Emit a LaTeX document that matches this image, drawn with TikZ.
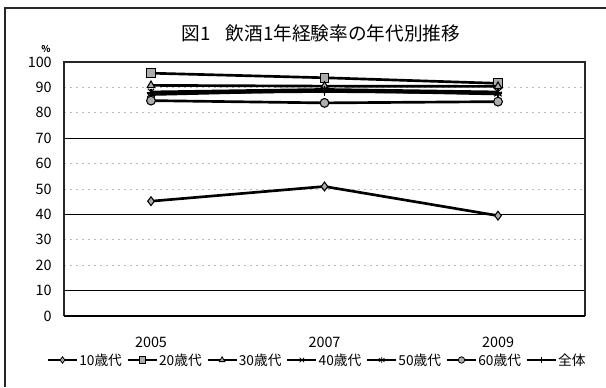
\documentclass[tikz,border=0pt]{standalone}
\usepackage{fontspec}
\setmainfont{Noto Sans CJK JP}
\usetikzlibrary{plotmarks}
\begin{document}
\begin{tikzpicture}[x=0.75pt,y=-0.75pt,
  series/.style={line width=2pt, black},
  mk/.style={mark options={solid, draw=black, fill=gray!65, line width=0.8pt}, mark size=3.3pt},
  lgmk/.style={mark options={solid, draw=black, fill=gray!65, line width=0.6pt}, mark size=2.4pt},
  lgline/.style={line width=1.4pt, black},
  gridmajor/.style={line width=0.8pt, black},
  gridminor/.style={gray!55, line width=0.5pt, dash pattern=on 1.5pt off 3pt},
  frame/.style={line width=0.8pt, black!85},
  ticklab/.style={anchor=east, inner sep=0pt, font=\fontsize{10.8}{12}\selectfont},
  yearlab/.style={inner sep=0pt, font=\fontsize{10.8}{12}\selectfont},
  lgtext/.style={anchor=west, inner sep=0pt, font=\fontsize{10.3}{12}\selectfont},
  titlestyle/.style={inner sep=0pt, font=\fontsize{14}{16}\selectfont}
]
\useasboundingbox (0,0) rectangle (606,387);
\fill[white] (0,0) rectangle (606,387);
% outer frame
\coordinate (fbl) at (5,387);
\coordinate (ftl) at (5,8);
\coordinate (ftr) at (606,8);
\draw[frame] (fbl) -- (ftl) -- (ftr);
% title
\node[titlestyle] (title) at (321,33) {図1\hspace{0.8em}飲酒1年経験率の年代別推移};
% plot area corners
\coordinate (pbl) at (64,316);
\coordinate (ptl) at (64,62);
\coordinate (ptr) at (585,62);
\coordinate (pbr) at (585,316);
% grid lines
\foreach \v in {90,80,60,50,30,20}
  \draw[gridminor] (64,{316-2.54*\v}) -- (585,{316-2.54*\v});
\foreach \v in {70,40,10}
  \draw[gridmajor] (64,{316-2.54*\v}) -- (585,{316-2.54*\v});
\draw[frame] (pbl) -- (ptl) -- (ptr) -- (pbr);
\draw[line width=1.6pt, black] (pbl) -- (pbr);
% y tick labels
\foreach \v in {0,10,...,100}
  \node[ticklab] (y\v) at (52,{316-2.54*\v}) {\v};
\node[inner sep=0pt, font=\fontsize{7}{8}\selectfont\bfseries] (pct) at (46,49) {\%};
% x labels
\node[yearlab] (x2005) at (151,342) {2005};
\node[yearlab] (x2007) at (324.5,342) {2007};
\node[yearlab] (x2009) at (498,342) {2009};
% data coordinates
\coordinate (a1) at (151,{316-2.54*45.2});
\coordinate (a2) at (324.5,{316-2.54*51});
\coordinate (a3) at (498,{316-2.54*39.5});
\coordinate (b1) at (151,{316-2.54*95.6});
\coordinate (b2) at (324.5,{316-2.54*93.8});
\coordinate (b3) at (498,{316-2.54*91.6});
\coordinate (c1) at (151,{316-2.54*90.8});
\coordinate (c2) at (324.5,{316-2.54*90.5});
\coordinate (c3) at (498,{316-2.54*90.4});
\coordinate (d1) at (151,{316-2.54*88.2});
\coordinate (d2) at (324.5,{316-2.54*89.2});
\coordinate (d3) at (498,{316-2.54*88.2});
\coordinate (e1) at (151,{316-2.54*87.2});
\coordinate (e2) at (324.5,{316-2.54*88.8});
\coordinate (e3) at (498,{316-2.54*87.4});
\coordinate (f1) at (151,{316-2.54*84.8});
\coordinate (f2) at (324.5,{316-2.54*83.9});
\coordinate (f3) at (498,{316-2.54*84.4});
\coordinate (g1) at (151,{316-2.54*87.8});
\coordinate (g2) at (324.5,{316-2.54*88.4});
\coordinate (g3) at (498,{316-2.54*87.8});
% series
\draw[series, mk, mark=diamond*] plot coordinates {(a1) (a2) (a3)};
\draw[series, mk, mark=square*] plot coordinates {(b1) (b2) (b3)};
\draw[series, mk, mark=triangle*] plot coordinates {(c1) (c2) (c3)};
\draw[series, mk, mark=x] plot coordinates {(d1) (d2) (d3)};
\draw[series, mk, mark=asterisk] plot coordinates {(e1) (e2) (e3)};
\draw[series, mk, mark=+] plot coordinates {(g1) (g2) (g3)};
\draw[series, mk, mark=*] plot coordinates {(f1) (f2) (f3)};
% legend
\foreach \i/\m/\t in {0/diamond*/10歳代, 1/square*/20歳代, 2/triangle*/30歳代, 3/x/40歳代, 4/asterisk/50歳代, 5/*/60歳代, 6/+/全体}{
  \coordinate (ls\i) at ({48+79.8*\i},360);
  \coordinate (lm\i) at ({48+79.8*\i+14.5},360);
  \coordinate (le\i) at ({48+79.8*\i+29},360);
  \draw[lgline, lgmk, mark=\m, mark indices={2}] plot coordinates {(ls\i) (lm\i) (le\i)};
  \node[lgtext] (lt\i) at ({48+79.8*\i+31},360) {\t};
}
\end{tikzpicture}
\end{document}
